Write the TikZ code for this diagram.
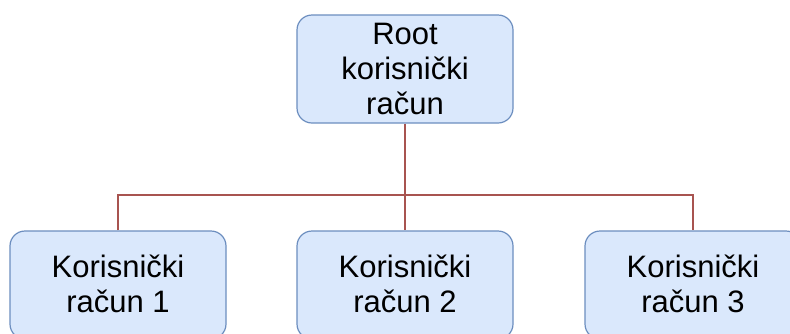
\documentclass[tikz,border=0pt]{standalone}
\usepackage{fontspec}
\setmainfont{Liberation Sans}
\definecolor{boxfill}{HTML}{DAE8FC}
\definecolor{boxdraw}{HTML}{6C8EBF}
\definecolor{linkc}{HTML}{A85450}
\begin{document}
\begin{tikzpicture}[x=1pt,y=-1pt,
  acct/.style={draw=boxdraw,fill=boxfill,line width=1.2pt,rounded corners=15pt,
    minimum width=216pt,minimum height=108pt,inner sep=0pt,align=center,
    font=\fontsize{31}{35}\selectfont},
  lbl/.style={align=center,inner sep=0pt,font=\fontsize{31}{35}\selectfont},
  link/.style={draw=linkc,line width=1.4pt}]
\useasboundingbox (0,0) rectangle (790,333);
\begin{scope}
\clip (0,0) rectangle (790,333);
\node[acct] (root) at (405,69) {Root\\korisnički\\račun};
\node[acct] (a1) at (118,285) {};
\node[acct] (a2) at (405,285) {};
\node[acct] (a3) at (693,285) {};
\node[lbl] (t1) at (118,284) {Korisnički\\račun 1};
\node[lbl] (t2) at (405,284) {Korisnički\\račun 2};
\node[lbl] (t3) at (693,284) {Korisnički\\račun 3};
\coordinate (bus) at (405,195);
\draw[link] (root.south) -- (bus);
\draw[link] (a1.north) |- (bus) -| (a3.north);
\draw[link] (bus) -- (a2.north);
\end{scope}
\end{tikzpicture}
\end{document}
